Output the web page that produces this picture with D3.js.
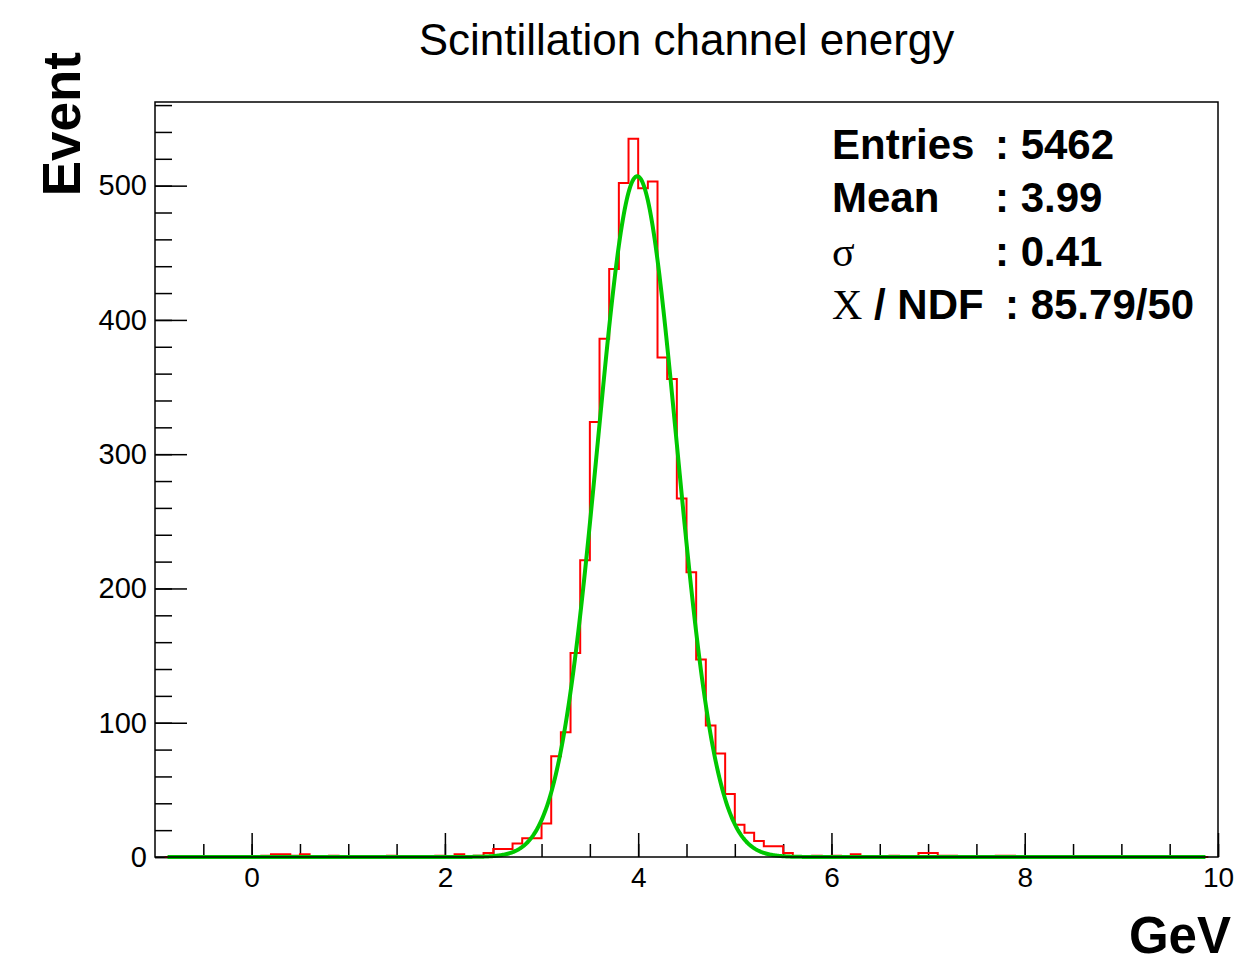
<!DOCTYPE html>
<html>
<head>
<meta charset="utf-8">
<script src="https://cdn.jsdelivr.net/npm/d3@7"></script>
<style>
  body { margin: 0; background: #fff; }
  svg { display: block; font-family: "Liberation Sans", Arial, Helvetica, sans-serif; }
</style>
</head>
<body>
<div id="chart"></div>
<script>
// histogram: 0.1 GeV bins starting at -0.9 GeV
const binStart = -0.9;
const binWidth = 0.1;
const counts = [
  0, 0, 0, 0, 0, 0, 0, 0, 0, 0,            // -0.9 .. 0.0
  1, 2, 2, 1, 2, 0, 0, 1, 0, 0,            // 0.1 .. 1.0
  0, 0, 0, 1, 0, 0, 0, 0, 1, 0,            // 1.1 .. 2.0
  2, 0, 1, 3, 6, 6, 10, 14, 14, 25,        // 2.1 .. 3.0
  75, 93, 152, 221, 324, 386, 438, 502, 535, 498,   // 3.1 .. 4.0
  503, 372, 356, 267, 212, 147, 98, 77, 47, 24,     // 4.1 .. 5.0
  18, 12, 8, 8, 3, 0, 0, 1, 0, 1,          // 5.1 .. 6.0
  0, 2, 0, 0, 0, 1, 0, 0, 3, 3,            // 6.1 .. 7.0
  1, 1, 0, 0, 0, 0, 1, 1, 0, 0,            // 7.1 .. 8.0
  0, 0, 0, 0, 0, 0, 0, 0, 0, 0,            // 8.1 .. 9.0
  0, 0, 0, 0, 0, 0, 0, 0                   // 9.1 .. 9.8
];

// gaussian fit parameters
const fitConst = 507;
const fitMean = 3.99;
const fitSigma = 0.41;
const fitRange = [-0.87, 9.87];

const xTicks = [0, 2, 4, 6, 8, 10];
const yTicks = [0, 100, 200, 300, 400, 500];

const statLabels = ['Entries', 'Mean', 'σ', 'X'];
const statValues = [': 5462', ': 3.99', ': 0.41', ': 85.79/50'];

const W = 1235, H = 963;
const margin = { top: 102, right: 17, bottom: 106, left: 155 };

const svg = d3.select('#chart').append('svg')
  .attr('width', W)
  .attr('height', H);

const x = d3.scaleLinear().domain([-1, 10]).range([margin.left, W - margin.right]);
const y = d3.scaleLinear().domain([0, 562.3]).range([H - margin.bottom, margin.top]);

// title
svg.append('text')
  .attr('x', (x(-1) + x(10)) / 2)
  .attr('y', 55)
  .attr('text-anchor', 'middle')
  .attr('font-size', 44)
  .text('Scintillation channel energy');

// axes (ticks point inward like ROOT)
const xAxisMinor = d3.axisBottom(x)
  .tickValues(d3.range(-0.5, 10.01, 0.5))
  .tickSize(-13)
  .tickFormat('');
svg.append('g')
  .attr('transform', `translate(0,${y(0)})`)
  .call(xAxisMinor)
  .call(g => g.select('.domain').remove())
  .selectAll('line').attr('stroke-width', 1.5);

svg.append('g')
  .attr('transform', `translate(0,${y(0)})`)
  .call(d3.axisBottom(x).tickValues(xTicks).tickSize(-24).tickPadding(10).tickFormat(d3.format('d')))
  .call(g => g.select('.domain').remove())
  .call(g => g.selectAll('line').attr('stroke-width', 1.5))
  .call(g => g.selectAll('text').attr('font-size', 28).attr('font-family', null));

svg.append('g')
  .attr('transform', `translate(${x(-1)},0)`)
  .call(d3.axisLeft(y).tickValues(d3.range(0, 561, 20)).tickSize(-17).tickFormat(''))
  .call(g => g.select('.domain').remove())
  .selectAll('line').attr('stroke-width', 1.5);

svg.append('g')
  .attr('transform', `translate(${x(-1)},0)`)
  .call(d3.axisLeft(y).tickValues(yTicks).tickSize(-32).tickPadding(8))
  .call(g => g.select('.domain').remove())
  .call(g => g.selectAll('line').attr('stroke-width', 1.5))
  .call(g => g.selectAll('text').attr('font-size', 29).attr('font-family', null));

// histogram outline
const pts = [{ x: binStart, c: 0 }];
counts.forEach((c, i) => pts.push({ x: binStart + i * binWidth, c: c }));
const binEnd = binStart + counts.length * binWidth;
pts.push({ x: binEnd, c: counts[counts.length - 1] });
pts.push({ x: binEnd, c: 0 });

const step = d3.line()
  .x(d => x(d.x))
  .y(d => y(d.c))
  .curve(d3.curveStepAfter);

svg.append('path')
  .datum(pts)
  .attr('fill', 'none')
  .attr('stroke', '#ff0000')
  .attr('stroke-width', 2)
  .attr('d', step);

// fit curve
const fitPts = d3.range(fitRange[0], fitRange[1] + 0.001, 0.01)
  .map(v => ({ x: v, c: fitConst * Math.exp(-0.5 * Math.pow((v - fitMean) / fitSigma, 2)) }));

svg.append('path')
  .datum(fitPts)
  .attr('fill', 'none')
  .attr('stroke', '#00c800')
  .attr('stroke-width', 4)
  .attr('stroke-linejoin', 'round')
  .attr('d', d3.line().x(d => x(d.x)).y(d => y(d.c)));

// frame
svg.append('rect')
  .attr('x', x(-1))
  .attr('y', y.range()[1])
  .attr('width', x(10) - x(-1))
  .attr('height', y.range()[0] - y.range()[1])
  .attr('fill', 'none')
  .attr('stroke', '#000')
  .attr('stroke-width', 1.5);

// axis titles
svg.append('text')
  .attr('transform', 'translate(80,52) rotate(-90)')
  .attr('text-anchor', 'end')
  .attr('font-size', 53)
  .attr('font-weight', 'bold')
  .text('Event');

svg.append('text')
  .attr('x', 1231)
  .attr('y', 953)
  .attr('text-anchor', 'end')
  .attr('font-size', 51)
  .attr('font-weight', 'bold')
  .text('GeV');

// stats box text
const stats = svg.append('g').attr('font-size', 42).attr('font-weight', 'bold');
statLabels.forEach((lab, i) => {
  const t = stats.append('text')
    .attr('x', 832)
    .attr('y', 159 + i * 53.3);
  if (lab === 'σ' || lab === 'X') {
    t.append('tspan')
      .attr('font-family', '"Liberation Serif", "Times New Roman", serif')
      .attr('font-weight', 'normal')
      .text(lab);
    if (lab === 'X') t.append('tspan').text(' / NDF');
  } else {
    t.text(lab);
  }
  stats.append('text')
    .attr('x', i === 3 ? 1005 : 995)
    .attr('y', 159 + i * 53.3)
    .text(statValues[i]);
});
</script>
</body>
</html>
